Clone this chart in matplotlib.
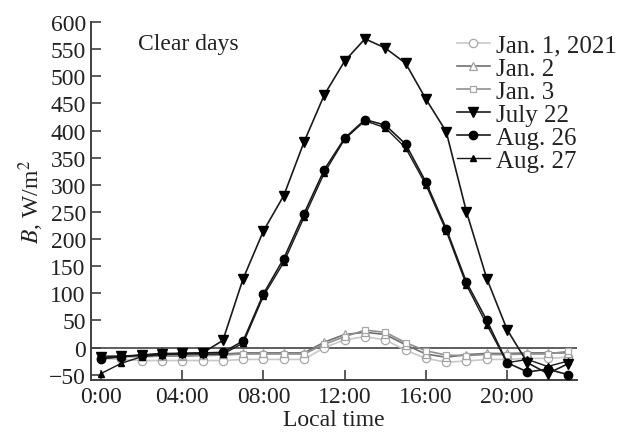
import matplotlib
matplotlib.use("Agg")
import matplotlib.pyplot as plt

# 数据：每小时一个点 (0:00 - 23:00)
hours = list(range(24))

jan1 = [-20, -22, -24, -24, -24, -24, -24, -22, -22, -22, -22, 0,
        14, 20, 14, -5, -20, -27, -25, -22, -22, -20, -20, -18]
jan2 = [-15, -16, -16, -15, -15, -14, -12, -10, -10, -10, -10, 10,
        24, 28, 24, 5, -12, -18, -13, -11, -11, -10, -10, -10]
jan3 = [-16, -17, -17, -16, -16, -15, -14, -12, -12, -12, -12, 6,
        20, 32, 28, 9, -6, -14, -15, -13, -13, -12, -12, -7]
july22 = [-18, -16, -14, -12, -11, -10, 13, 127, 215, 280, 379, 466,
          528, 569, 552, 524, 458, 398, 250, 127, 33, -28, -48, -30]
aug26 = [-21, -17, -14, -11, -11, -10, -9, 12, 99, 164, 247, 328,
         386, 420, 410, 375, 305, 219, 120, 50, -28, -45, -40, -50]
aug27 = [-48, -29, -17, -13, -12, -12, -12, 8, 95, 157, 240, 322,
         384, 418, 405, 368, 300, 215, 115, 42, -28, -22, -35, -25]

x_ticks = [0, 4, 8, 12, 16, 20]
x_tick_labels = ["0:00", "04:00", "08:00", "12:00", "16:00", "20:00"]
y_ticks = list(range(-50, 601, 50))

plt.rcParams["font.family"] = ["Liberation Serif", "DejaVu Serif"]
plt.rcParams["mathtext.fontset"] = "stix"

fig = plt.figure(figsize=(6.28, 4.39), dpi=100)
ax = fig.add_axes([0.1454, 0.132, 0.7736, 0.8156])

# 零线
ax.axhline(0, color="#505050", lw=1.3, zorder=1)

# 一月（灰色，空心标记）
ax.plot(hours, jan1, color="#c8c8c8", lw=1.2, marker="o", ms=6,
        mfc="white", mec="#a8a8a8", mew=0.9, label="Jan. 1, 2021", zorder=2)
ax.plot(hours, jan2, color="#707070", lw=1.2, marker="^", ms=6,
        mfc="white", mec="#a0a0a0", mew=0.9, label="Jan. 2", zorder=3)
ax.plot(hours, jan3, color="#909090", lw=1.2, marker="s", ms=4.5,
        mfc="white", mec="#a8a8a8", mew=0.9, label="Jan. 3", zorder=3)

# 夏季（黑色，实心标记）
ax.plot(hours, july22, color="#1a1a1a", lw=1.2, marker="v", ms=7,
        mfc="black", mec="black", label="July 22", zorder=5)
ax.plot(hours, aug26, color="#1a1a1a", lw=1.2, marker="o", ms=6,
        mfc="black", mec="black", label="Aug. 26", zorder=5)
ax.plot(hours, aug27, color="#1a1a1a", lw=1.0, marker="^", ms=4.5,
        mfc="black", mec="black", label="Aug. 27", zorder=4)

ax.set_xlim(-0.48, 23.45)
ax.set_ylim(-60, 600)
ax.set_xticks(x_ticks)
ax.set_xticklabels(x_tick_labels)
ax.set_yticks(y_ticks)

for side in ["top", "right"]:
    ax.spines[side].set_visible(False)
for side in ["left", "bottom"]:
    ax.spines[side].set_color("#404040")
    ax.spines[side].set_linewidth(1.4)

ax.tick_params(axis="both", direction="in", length=7, width=1.2,
               color="#404040", labelsize=17, labelcolor="#222222", pad=4)

ax.set_xlabel("Local time", fontsize=17, color="#222222", labelpad=2)
ax.set_ylabel(r"$\mathit{B}$, W/m$^2$", fontsize=17, color="#222222", labelpad=2)

ax.text(1.8, 560, "Clear days", fontsize=17, color="#222222", va="center")

ax.legend(loc="upper left", bbox_to_anchor=(0.728, 0.92),
          bbox_transform=fig.transFigure, frameon=False, fontsize=18,
          handlelength=1.3, handletextpad=0.25, labelspacing=0.02,
          borderpad=0, borderaxespad=0, labelcolor="#222222")

fig.savefig("out.png", dpi=100)
